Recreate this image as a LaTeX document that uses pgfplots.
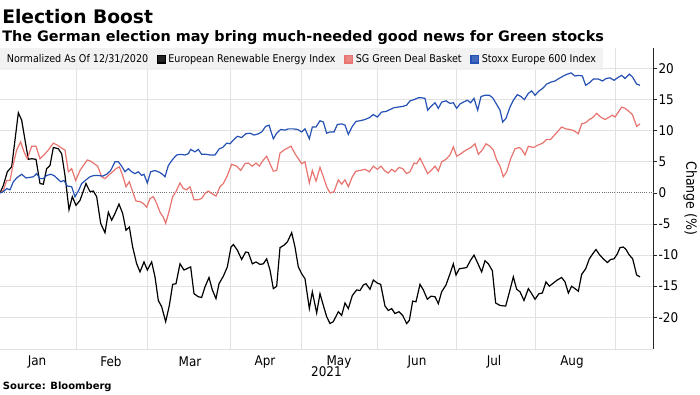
\documentclass[border=0pt]{standalone}
\usepackage{fontspec}
\setmainfont{DejaVu Sans Condensed}
\newfontfamily\titlefont{DejaVu Sans}
\usepackage{pgfplots}
\pgfplotsset{compat=1.18}
\definecolor{serblue}{RGB}{37,80,180}
\definecolor{serred}{RGB}{232,116,112}
\definecolor{gridgray}{RGB}{226,226,226}
\definecolor{leggray}{RGB}{240,240,240}

\begin{document}
\begin{tikzpicture}
\useasboundingbox (0,0) rectangle (525pt,-295.5pt);
\node[anchor=base west, inner sep=0, font=\titlefont\bfseries\fontsize{14}{16}\selectfont] at (1.5pt,-17.5pt) {Election Boost};
\node[anchor=base west, inner sep=0, font=\titlefont\bfseries\fontsize{10.8}{12}\selectfont] at (1.5pt,-31pt) {The German election may bring much-needed good news for Green stocks};
\node[anchor=base west, inner sep=0, font=\titlefont\bfseries\fontsize{7.5}{9}\selectfont] at (2pt,-292pt) {Source: Bloomberg};
\begin{axis}[
  at={(0pt,-261.75pt)}, anchor=south west, scale only axis,
  width=489.75pt, height=225.75pt,
  xmin=0, xmax=1959, ymin=-25.1, ymax=23.3,
  axis y line*=right, axis x line*=bottom,
  y axis line style={black!85, line width=0.6pt},
  x axis line style={gridgray, line width=0.6pt},
  xtick={111,333,570,795,1017,1251,1482,1716},
  xticklabels={Jan,Feb,Mar,Apr,May,Jun,Jul,Aug},
  x tick style={draw=none},
  xticklabel style={anchor=center, yshift=-6.75pt},
  extra x ticks={228,443,690,905,1132,1368,1607,1845},
  extra x tick labels={},
  extra x tick style={grid=major, tick style={draw=none}},
  ytick={-20,-15,-10,-5,5,10,15,20},
  yticklabels={-20,-15,-10,-5,5,10,15,20},
  ymajorgrids,
  major grid style={gridgray, line width=0.6pt},
  extra y ticks={0}, extra y tick labels={0},
  extra y tick style={major grid style={densely dotted, black!55, line width=0.7pt}},
  y tick style={black!85, line width=0.6pt},
  tick align=outside, major tick length=3pt,
  tick label style={font=\fontsize{10}{12}\selectfont},
  yticklabel style={anchor=west, inner xsep=1pt},
  xlabel={2021}, xlabel style={font=\fontsize{10}{12}\selectfont, at={(axis description cs:0.5,0)}, anchor=center, yshift=-17.25pt},
  ylabel={Change (\%)}, ylabel style={rotate=180, font=\fontsize{10.5}{12}\selectfont, at={(axis description cs:1.057,0.5)}, anchor=center},
  legend style={at={(0,1)}, anchor=north west, draw=none, fill=leggray, fill opacity=0.85, text opacity=1,
    font=\fontsize{8}{9}\selectfont, legend columns=-1, inner xsep=3pt, inner ysep=2.5pt,
    /tikz/every even column/.append style={column sep=4.6pt}},
  legend image code/.code={\fill[#1] (0pt,-2.8pt) rectangle (5.6pt,2.8pt);},
]
\addlegendimage{empty legend}
\addlegendentry{Normalized As Of 12/31/2020}

\addplot[black, line width=0.9pt] coordinates {
(0,0) (10,1.2) (22,3.4) (35,4.2) (45,8.5) (55,12.9) (65,11.7) (75,8.5) (85,5.4) (95,5.5)
(108,5.4) (120,1.5) (130,1.4) (140,3.9) (150,4.4) (160,7.3) (175,7.1) (185,6.3) (195,2.8) (207,-2.7)
(217,-0.6) (228,-2.0) (240,-1.2) (258,1.5) (270,0.2) (280,0.3) (290,-0.6) (302,-4.9) (315,-6.4) (325,-3.1)
(335,-4.4) (345,-3.3) (357,-1.8) (368,-3.3) (378,-6.0) (388,-5.5) (398,-8.7) (410,-11.4) (420,-12.7) (432,-11.1)
(442,-12.4) (455,-11.1) (465,-13.5) (475,-17.3) (485,-18.3) (497,-20.7) (508,-18.1) (518,-14.7) (528,-14.6) (540,-11.4)
(552,-12.4) (560,-12.2) (572,-11.9) (582,-16.2) (595,-16.7) (605,-16.8) (615,-15.1) (627,-13.6) (637,-15.6) (648,-17.0)
(657,-14.6) (670,-13.4) (682,-11.9) (693,-8.7) (700,-8.3) (712,-9.2) (725,-10.7) (737,-9.5) (745,-9.6) (757,-11.4)
(768,-11.1) (780,-11.5) (790,-11.4) (800,-10.6) (810,-12.4) (820,-15.4) (830,-15.0) (840,-8.8) (852,-8.4) (862,-7.9)
(875,-6.4) (885,-8.7) (895,-11.9) (905,-13.0) (915,-13.8) (928,-18.6) (937,-15.9) (950,-19.3) (960,-16.2) (970,-18.1)
(980,-19.9) (990,-21.0) (1000,-20.7) (1015,-19.1) (1025,-19.7) (1035,-17.7) (1045,-18.6) (1057,-16.5) (1070,-15.6) (1080,-15.7)
(1090,-14.8) (1098,-14.6) (1110,-15.5) (1120,-14.0) (1132,-14.5) (1142,-14.7) (1155,-18.2) (1165,-18.9) (1175,-18.6) (1185,-19.4)
(1197,-19.1) (1208,-19.7) (1220,-21.0) (1228,-20.5) (1238,-17.4) (1248,-17.5) (1260,-14.7) (1270,-15.6) (1282,-17.1) (1293,-16.6)
(1305,-16.7) (1315,-17.8) (1325,-15.9) (1338,-14.8) (1350,-13.0) (1360,-11.4) (1368,-13.2) (1378,-12.2) (1400,-12.0) (1412,-10.8)
(1422,-10.0) (1434,-11.4) (1445,-12.7) (1455,-10.9) (1465,-11.4) (1477,-12.5) (1487,-17.7) (1500,-18.1) (1517,-18.2) (1530,-15.6)
(1540,-13.5) (1550,-15.5) (1560,-15.9) (1572,-17.3) (1585,-15.4) (1595,-16.2) (1605,-17.1) (1617,-16.2) (1627,-16.1) (1638,-14.3)
(1648,-15.0) (1660,-14.5) (1672,-14.0) (1685,-13.6) (1695,-14.3) (1705,-16.1) (1715,-15.0) (1725,-15.4) (1735,-15.8) (1745,-13.1)
(1757,-12.2) (1768,-10.6) (1778,-9.8) (1788,-9.1) (1798,-9.9) (1810,-10.6) (1822,-11.2) (1832,-10.7) (1842,-10.6) (1852,-9.8)
(1860,-8.8) (1870,-8.7) (1878,-9.1) (1888,-10.0) (1898,-10.6) (1910,-13.2) (1920,-13.5)
};
\addlegendentry{European Renewable Energy Index}

\addplot[serred, line width=0.9pt] coordinates {
(0,0) (10,0.4) (20,2.0) (30,2.0) (40,4.7) (50,6.9) (62,8.2) (72,6.6) (82,5.5) (95,7.5)
(108,7.5) (120,5.5) (132,6.1) (145,6.9) (160,8.0) (172,7.7) (182,7.3) (195,6.9) (205,3.4) (215,3.9)
(227,2.0) (240,3.6) (250,4.4) (262,5.3) (272,5.1) (285,4.6) (293,4.3) (305,2.6) (315,2.3) (325,2.8)
(338,3.4) (348,3.9) (358,4.2) (368,2.8) (378,1.0) (388,1.8) (398,0.2) (408,-1.3) (420,-1.4) (430,-1.7)
(440,-2.3) (450,-0.9) (460,-0.6) (470,-1.7) (480,-3.1) (490,-3.9) (497,-4.9) (508,-2.8) (518,-0.6) (528,0.2)
(540,1.6) (550,0.7) (560,0.5) (570,1.0) (582,-1.1) (595,-1.1) (605,-0.9) (615,-0.1) (625,0.3) (635,-0.1)
(648,-0.5) (660,1.0) (670,1.5) (682,2.8) (695,4.6) (710,4.3) (722,3.6) (735,4.7) (745,4.8) (757,4.3)
(768,4.8) (778,4.3) (790,5.3) (800,5.9) (810,4.7) (820,3.5) (830,3.6) (840,6.4) (855,7.0) (873,7.5)
(885,6.3) (895,5.5) (905,4.7) (915,5.0) (928,1.6) (937,3.6) (948,1.9) (960,4.1) (970,2.6) (980,1.0)
(990,0.0) (1002,0.2) (1015,2.1) (1025,1.4) (1035,2.1) (1045,1.0) (1057,2.6) (1068,3.5) (1080,3.6) (1095,3.8)
(1108,3.4) (1120,4.3) (1132,3.8) (1143,4.3) (1155,3.5) (1165,3.2) (1175,3.8) (1185,3.4) (1197,4.1) (1208,3.9)
(1220,3.1) (1230,3.4) (1242,4.8) (1250,4.7) (1260,5.6) (1272,4.3) (1283,3.1) (1293,3.6) (1305,4.3) (1315,3.5)
(1325,5.0) (1338,5.4) (1350,6.1) (1360,7.4) (1370,5.9) (1380,6.2) (1390,6.6) (1402,7.0) (1413,7.3) (1425,7.9)
(1435,6.2) (1447,6.9) (1458,7.9) (1470,7.5) (1480,6.9) (1490,5.3) (1500,4.3) (1510,2.6) (1520,3.4) (1532,5.5)
(1545,7.1) (1558,7.3) (1565,7.0) (1575,6.1) (1585,7.5) (1600,7.3) (1615,7.7) (1628,8.0) (1640,8.6) (1652,8.6)
(1665,9.4) (1675,10.0) (1685,10.6) (1697,10.3) (1710,10.2) (1722,10.0) (1735,9.5) (1745,11.1) (1757,11.3) (1768,11.8)
(1778,12.1) (1790,12.8) (1802,12.2) (1815,11.8) (1825,12.1) (1837,12.5) (1845,12.2) (1855,13.0) (1865,13.8) (1875,13.6)
(1885,13.2) (1897,12.6) (1910,10.7) (1920,11.1)
};
\addlegendentry{SG Green Deal Basket}

\addplot[serblue, line width=0.9pt] coordinates {
(0,0) (10,0.2) (20,0.7) (30,0.5) (40,1.8) (52,2.5) (65,3.0) (78,2.4) (90,2.5) (100,2.6)
(110,3.1) (120,2.3) (130,2.3) (140,2.8) (152,3.0) (162,2.8) (172,2.3) (182,1.8) (192,2.0) (202,1.1)
(215,1.0) (225,-0.6) (235,0.3) (245,1.5) (258,2.1) (270,2.6) (282,2.8) (295,2.8) (308,2.7) (320,3.0)
(332,3.6) (345,5.0) (355,5.0) (365,4.3) (375,3.4) (385,3.9) (395,3.4) (405,3.1) (415,3.4) (425,2.8)
(432,3.0) (442,1.6) (452,3.4) (465,3.6) (475,3.4) (485,3.1) (495,2.6) (505,4.4) (518,5.4) (530,6.1)
(542,6.2) (555,6.1) (565,6.3) (572,7.0) (585,6.6) (595,7.0) (605,6.2) (618,6.2) (630,6.1) (645,6.1)
(658,7.1) (668,7.3) (680,8.0) (690,7.9) (700,8.5) (712,9.1) (725,8.9) (737,9.5) (750,9.6) (762,9.3)
(775,9.5) (785,9.8) (797,10.7) (807,10.9) (820,8.7) (830,9.6) (842,10.2) (855,10.1) (865,10.3) (880,10.3)
(893,10.2) (905,9.8) (915,10.3) (928,8.7) (937,10.6) (948,10.6) (960,11.6) (970,11.4) (980,9.6) (990,9.8)
(1002,9.8) (1012,11.0) (1025,11.1) (1035,10.9) (1045,9.4) (1057,10.7) (1068,11.5) (1080,11.6) (1095,11.8) (1108,12.1)
(1120,12.6) (1132,12.2) (1145,13.0) (1158,13.1) (1170,13.4) (1182,13.7) (1195,13.8) (1208,13.9) (1220,14.1) (1230,14.8)
(1242,15.0) (1255,15.3) (1265,15.3) (1275,15.2) (1283,13.3) (1293,13.9) (1305,14.5) (1315,13.6) (1325,14.6) (1338,14.8)
(1350,14.4) (1360,14.5) (1370,13.6) (1380,14.3) (1390,14.6) (1402,14.9) (1412,14.5) (1422,15.2) (1433,13.3) (1443,15.5)
(1455,15.7) (1468,15.7) (1478,15.3) (1488,14.4) (1500,13.3) (1508,11.4) (1518,12.0) (1530,13.8) (1540,14.9) (1552,15.8)
(1563,15.5) (1573,15.0) (1585,16.0) (1595,16.4) (1605,15.7) (1617,16.4) (1628,16.8) (1640,17.5) (1652,17.8) (1665,18.0)
(1677,18.4) (1690,18.8) (1702,19.1) (1713,19.3) (1725,18.8) (1737,18.9) (1747,18.8) (1757,17.3) (1768,17.7) (1780,18.3)
(1795,18.3) (1808,18.0) (1818,18.4) (1830,18.5) (1842,18.1) (1855,18.6) (1865,18.9) (1875,18.4) (1888,19.1) (1898,18.6)
(1910,17.5) (1920,17.3)
};
\addlegendentry{Stoxx Europe 600 Index}
\end{axis}
\end{tikzpicture}
\end{document}
